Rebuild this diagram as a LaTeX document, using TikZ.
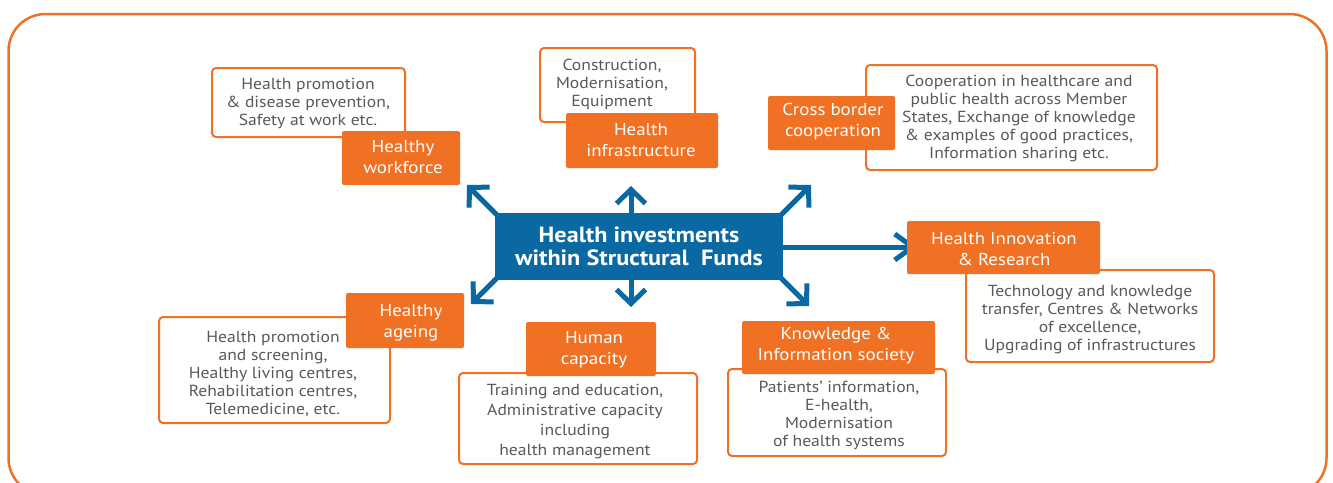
\documentclass[tikz,border=0pt]{standalone}
\usepackage{fontspec}
\setmainfont[FakeStretch=1.1]{PT Sans}
\usetikzlibrary{arrows.meta}

\definecolor{frameorange}{HTML}{F07123}
\definecolor{fundblue}{HTML}{0A68A3}
\definecolor{bodygrey}{HTML}{58595B}

\begin{document}
\begin{tikzpicture}[x=1pt,y=-1pt,
  theme/.style={fill=frameorange, rounded corners=2pt, inner sep=0pt},
  detail/.style={draw=frameorange, line width=2pt, fill=white, rounded corners=4pt, inner sep=0pt},
  themetext/.style={text=white, align=center, font=\fontsize{17.2}{21}\selectfont, inner sep=0pt},
  detailtext/.style={text=bodygrey, align=center, font=\fontsize{16}{18}\selectfont, inner sep=0pt, yshift=-2pt},
  hub/.style={fill=fundblue, inner sep=0pt, minimum width=288pt, minimum height=67pt,
    text=white, align=center, font=\fontsize{22}{23}\selectfont\bfseries},
  spoke/.style={draw=fundblue, line width=5pt, -{Straight Barb[length=14pt,width=29pt]}},
  sidespoke/.style={draw=fundblue, line width=5pt, -{Straight Barb[length=18pt,width=26pt]}}
]
\useasboundingbox (0,0) rectangle (1333,482);
\clip (0,0) rectangle (1333,482);

% outer frame
\draw[frameorange, line width=2.5pt, rounded corners=37pt] (8.5,14) rectangle (1326.5,495);

% free ends of the spokes
\coordinate (tipUL) at (467,185);
\coordinate (tipU)  at (631,186);
\coordinate (tipUR) at (811,185);
\coordinate (tipR)  at (917,247);
\coordinate (tipDR) at (809,306);
\coordinate (tipD)  at (631,307);
\coordinate (tipDL) at (471,304);

% anchors on the hub where the spokes leave
\coordinate (hubU) at (631,230);
\coordinate (hubD) at (631,262);
\coordinate (hubR) at (770,247);

% central box and its spokes
\node[hub] (hub) at (639,246.5) {};
\draw[spoke] (hub.north west) ++(10,10) coordinate (sUL) (sUL) -- (tipUL);
\draw[spoke] (hubU) -- (tipU);
\draw[spoke] (hub.north east) ++(-10,10) coordinate (sUR) (sUR) -- (tipUR);
\draw[sidespoke] (hubR) -- (tipR);
\draw[spoke] (hub.south east) ++(-10,-10) coordinate (sDR) (sDR) -- (tipDR);
\draw[spoke] (hubD) -- (tipD);
\draw[spoke] (hub.south west) ++(10,-10) coordinate (sDL) (sDL) -- (tipDL);
\node[hub] (hubbox) at (639,246.5) {Health investments\\within Structural\ \ Funds};

% Healthy workforce
\node[detail, minimum width=193pt, minimum height=69pt] (wfd) at (308.5,102.5) {};
\node[detailtext] (wfdt) at (308,101.5) {Health promotion\\\& disease prevention,\\Safety at work etc.};
\node[theme, minimum width=118pt, minimum height=54pt] (wf) at (401,158) {};
\node[themetext] (wft) at (403,157) {Healthy\\workforce};

% Health infrastructure
\node[detail, minimum width=155pt, minimum height=74pt] (infd) at (617.5,85) {};
\node[detailtext] (infdt) at (612,82.5) {Construction,\\Modernisation,\\Equipment};
\node[theme, minimum width=152pt, minimum height=55pt] (inf) at (642,140.5) {};
\node[themetext] (inft) at (641,140) {Health\\infrastructure};

% Cross border cooperation
\node[detail, minimum width=291pt, minimum height=105pt] (cbd) at (1011.5,117.5) {};
\node[detailtext] (cbdt) at (1019,116.6) {Cooperation in healthcare and\\public health across Member\\States, Exchange of knowledge\\\& examples of good practices,\\Information sharing etc.};
\node[theme, minimum width=127pt, minimum height=54pt] (cb) at (831.5,123) {};
\node[themetext] (cbt) at (833,122) {Cross border\\cooperation};

% Health Innovation & Research
\node[detail, minimum width=248pt, minimum height=92pt] (innd) at (1090,316) {};
\node[detailtext] (inndt) at (1090,318) {Technology and knowledge\\transfer, Centres \& Networks\\of excellence,\\Upgrading of infrastructures};
\node[theme, minimum width=193pt, minimum height=53pt] (inn) at (1003.5,247.5) {};
\node[themetext] (innt) at (1004,249) {Health Innovation\\\& Research};

% Knowledge & Information society
\node[detail, minimum width=218pt, minimum height=87pt] (kisd) at (837,412.5) {};
\node[detailtext] (kisdt) at (839,413) {Patients' information,\\E-health,\\Modernisation\\of health systems};
\node[theme, minimum width=193pt, minimum height=53pt] (kis) at (838.5,347.5) {};
\node[themetext] (kist) at (836,345.5) {Knowledge \&\\Information society};

% Human capacity
\node[detail, minimum width=238pt, minimum height=91pt] (hcd) at (578,418.5) {};
\node[detailtext, font=\fontsize{16}{20}\selectfont] (hcdt) at (575,420) {Training and education,\\Administrative capacity\\including\\health management};
\node[theme, minimum width=130pt, minimum height=54pt] (hc) at (591,349) {};
\node[themetext] (hct) at (594,349.5) {Human\\capacity};

% Healthy ageing
\node[detail, minimum width=231pt, minimum height=106pt] (had) at (274.5,370) {};
\node[detailtext] (hadt) at (273,372) {Health promotion\\and screening,\\Healthy living centres,\\Rehabilitation centres,\\Telemedicine, etc.};
\node[theme, minimum width=118pt, minimum height=55pt] (ha) at (405,320.5) {};
\node[themetext] (hat) at (411,322.5) {Healthy\\ageing};
\end{tikzpicture}
\end{document}
